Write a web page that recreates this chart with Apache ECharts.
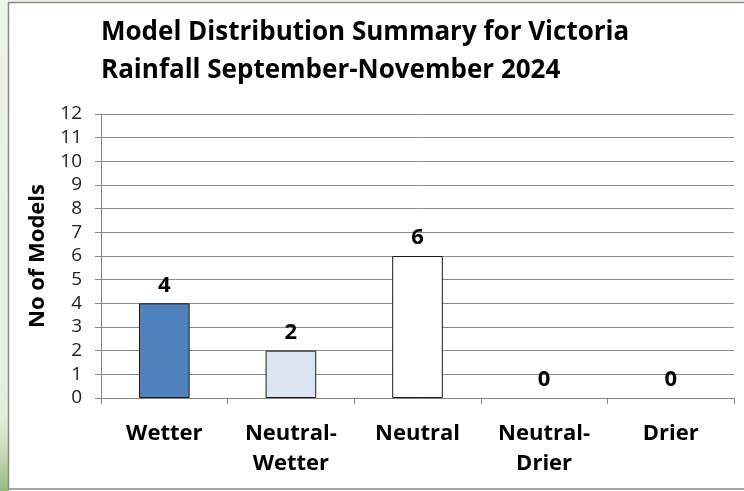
<!DOCTYPE html>
<html><head><meta charset="utf-8">
<script src="https://cdn.jsdelivr.net/npm/echarts@6/dist/echarts.min.js"></script>
<style>html,body{margin:0;padding:0;background:#fff}#c{width:744px;height:491px}</style>
</head><body><div id="c"></div>
<script>
const categories = ['Wetter', 'Neutral-\nWetter', 'Neutral', 'Neutral-\nDrier', 'Drier'];
const values = [4, 2, 6, 0, 0];
const barColors = ['#4f81bd', '#dbe5f1', '#ffffff', '#ffffff', '#ffffff'];
const titleLines = ['Model Distribution Summary for Victoria', 'Rainfall September-November 2024'];
const yAxisName = 'No of Models';

const chart = echarts.init(document.getElementById('c'), null, {renderer: 'canvas'});
const font = 'Open Sans';
chart.setOption({
  animation: false,
  backgroundColor: '#ffffff',
  graphic: [
    {type: 'rect', shape: {x: 0, y: 0, width: 9, height: 491}, z: -10,
     style: {fill: new echarts.graphic.LinearGradient(0, 0, 0, 1, [
       {offset: 0, color: '#eef3e7'}, {offset: 0.85, color: '#e6eddb'},
       {offset: 0.9, color: '#d3e2c2'}, {offset: 1, color: '#95bb83'}])}},
    {type: 'rect', shape: {x: 0, y: 0, width: 744, height: 2}, z: -10, style: {fill: '#eef3e7'}},
    {type: 'rect', shape: {x: 8.5, y: 2.5, width: 740, height: 486.5}, z: -5,
     style: {fill: '#ffffff', stroke: '#8c8c8c', lineWidth: 1.5}},
    {type: 'text', z: 10,
     style: {x: 101, y: 33, text: titleLines[0], verticalAlign: 'middle', font: 'bold 26px "' + font + '"', fill: '#000'}},
    {type: 'text', z: 10,
     style: {x: 101, y: 71, text: titleLines[1], verticalAlign: 'middle', font: 'bold 26px "' + font + '"', fill: '#000'}}
  ],
  grid: {left: 101, right: 10, top: 114, bottom: 93, containLabel: false},
  xAxis: {
    type: 'category', data: categories,
    axisLine: {lineStyle: {color: '#868686', width: 1}},
    axisTick: {show: true, length: 6, alignWithLabel: false, lineStyle: {color: '#868686'}},
    axisLabel: {color: '#000', fontFamily: font, fontWeight: 'bold', fontSize: 22, lineHeight: 30, margin: 21, interval: 0}
  },
  yAxis: {
    type: 'value', min: 0, max: 12, interval: 1,
    name: yAxisName, nameLocation: 'middle', nameGap: 52, nameRotate: 90,
    nameTextStyle: {color: '#000', fontFamily: font, fontWeight: 'bold', fontSize: 22},
    axisLine: {show: true, lineStyle: {color: '#868686'}},
    axisTick: {show: true, length: 6, lineStyle: {color: '#868686'}},
    axisLabel: {color: '#222', fontFamily: font, fontSize: 19, margin: 19},
    splitLine: {lineStyle: {color: '#8c8c8c', width: 1}}
  },
  series: [{
    type: 'bar', barWidth: '40%',
    data: values.map((v, i) => ({value: v, itemStyle: {color: barColors[i], borderWidth: v === 0 ? 0 : 1}})),
    itemStyle: {borderColor: '#1a1a1a', borderWidth: 1},
    label: {show: true, position: 'top', distance: 7, color: '#000', fontFamily: font, fontWeight: 'bold', fontSize: 22}
  }]
});
</script></body></html>
